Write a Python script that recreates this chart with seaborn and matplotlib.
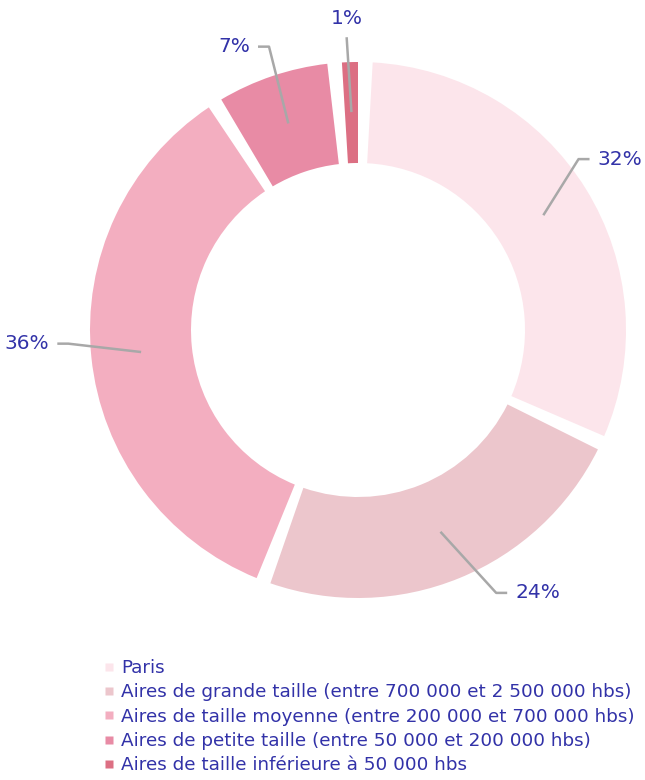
import numpy as np
import matplotlib
matplotlib.use("Agg")
import matplotlib.pyplot as plt
from matplotlib.lines import Line2D
import seaborn as sns

categories = [
    "Paris",
    "Aires de grande taille (entre 700 000 et 2 500 000 hbs)",
    "Aires de taille moyenne (entre 200 000 et 700 000 hbs)",
    "Aires de petite taille (entre 50 000 et 200 000 hbs)",
    "Aires de taille inférieure à 50 000 hbs",
]
values = [32, 24, 36, 7, 1]
colors = ["#fce5eb", "#ecc6cc", "#f3aec0", "#e88ba5", "#dc6f83"]

# layout only: angular nudges (deg) and radii (px) of label connector elbows
label_nudge = [6.0, 5.5, -3.1, -1.2, 0.5]
label_radius = [279, 297, 290, 297, 293]

TEXT = "#3232a8"
LINE = "#a8a8a8"
sns.set_theme(style="white")
plt.rcParams["font.family"] = ["DejaVu Sans"]

W, H = 645, 780
fig = plt.figure(figsize=(W / 100, H / 100), dpi=100)
ax = fig.add_axes([0, 0, 1, 1])

cx, cy = 358, H - 330
R, r_in = 268, 167
r_mid = 218
gap_px = 12.5
gap_val = (gap_px / r_mid) / (2 * np.pi) * sum(values)

seq_vals, seq_cols = [], []
for v, c in zip(values, colors):
    seq_vals += [gap_val, v]
    seq_cols += ["none", c]

wedges, _ = ax.pie(
    seq_vals, colors=seq_cols, startangle=90, counterclock=False,
    radius=R, center=(cx, cy),
    wedgeprops=dict(width=R - r_in, edgecolor="none", linewidth=0),
    frame=True,
)
data_wedges = wedges[1::2]
ax.set_xlim(0, W)
ax.set_ylim(0, H)
ax.set_aspect("auto")
ax.axis("off")

for w, v, nud, r_el in zip(data_wedges, values, label_nudge, label_radius):
    a_mid = np.deg2rad((w.theta1 + w.theta2) / 2)
    a_el = a_mid + np.deg2rad(nud)
    sx, sy = cx + r_mid * np.cos(a_mid), cy + r_mid * np.sin(a_mid)
    ex, ey = cx + r_el * np.cos(a_el), cy + r_el * np.sin(a_el)
    if abs(np.cos(a_el)) < 0.1:
        ax.plot([sx, ex], [sy, ey], color=LINE, lw=1.8, solid_capstyle="butt")
        ax.text(ex, ey + 9, f"{v}%", color=TEXT, fontsize=14.5, ha="center", va="bottom")
        continue
    side = 1 if np.cos(a_el) >= 0 else -1
    hx = ex + side * 11
    ax.plot([sx, ex, hx], [sy, ey, ey], color=LINE, lw=1.8, solid_capstyle="butt")
    ax.text(hx + side * 8, ey, f"{v}%", color=TEXT, fontsize=14.5,
            ha="left" if side > 0 else "right", va="center")

handles = [Line2D([0], [0], marker="s", color="none", markerfacecolor=c,
                  markeredgecolor="none", markersize=5.5) for c in colors]
leg = fig.legend(handles, categories, loc="upper left",
                 bbox_to_anchor=(104 / W, 1 - 659 / H), frameon=False,
                 fontsize=13.2, handlelength=0.5, handletextpad=0.45,
                 labelspacing=0.345, borderaxespad=0, borderpad=0)
for t in leg.get_texts():
    t.set_color(TEXT)

fig.savefig("out.png", dpi=100)
